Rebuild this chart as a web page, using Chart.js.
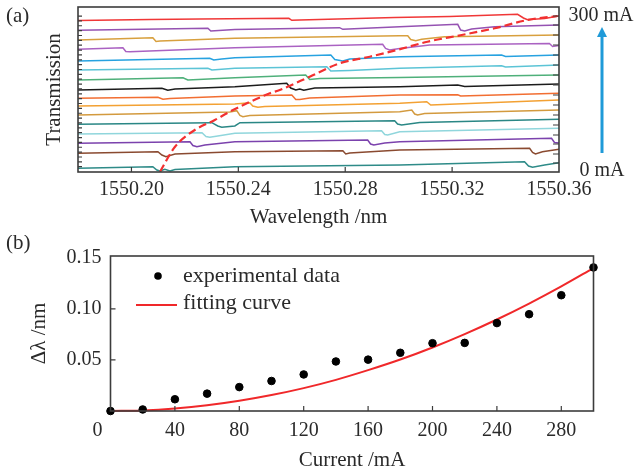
<!DOCTYPE html>
<html>
<head>
<meta charset="utf-8">
<script src="https://cdn.jsdelivr.net/npm/chart.js@4.4.1/dist/chart.umd.min.js"></script>
<style>
  html, body { margin: 0; padding: 0; background: #fff; }
  #wrap { position: relative; width: 637px; height: 473px; }
  #cA { position: absolute; left: 0; top: 0; }
  #cB { position: absolute; left: 0; top: 235px; }
</style>
</head>
<body>
<div id="wrap">
  <canvas id="cA" width="637" height="235"></canvas>
  <canvas id="cB" width="637" height="238"></canvas>
</div>
<script>
// ---- panel (a): transmission spectra, offset per drive current ([wavelength nm, transmission a.u.])
const currentsA = [0, 20, 40, 60, 80, 100, 120, 140, 160, 180, 200, 220, 240, 260, 280, 300];
const spec0 = [[1550.1800,3.7],[1550.2080,5.3],[1550.2095,2],[1550.2107,1],[1550.2125,2.7],[1550.2144,1],[1550.2163,2.5],[1550.2387,5.3],[1550.3004,7],[1550.3471,10.3],[1550.3486,6],[1550.3501,4.7],[1550.3546,7],[1550.3600,9.3]];
const spec20 = [[1550.1800,18.7],[1550.2099,20.3],[1550.2114,17],[1550.2129,15.3],[1550.2163,18],[1550.2387,20.3],[1550.2791,21.3],[1550.2802,18],[1550.2817,19],[1550.3004,22],[1550.3490,23.7],[1550.3501,19.5],[1550.3512,18],[1550.3538,20.3],[1550.3600,22.7]];
const spec40 = [[1550.1800,28.7],[1550.2219,30.3],[1550.2230,26.5],[1550.2245,25.3],[1550.2275,27],[1550.2387,30.3],[1550.2884,32],[1550.2895,28],[1550.2907,27],[1550.2948,29],[1550.3004,30.3],[1550.3572,33.7],[1550.3583,29.5],[1550.3600,29]];
const spec60 = [[1550.1800,38],[1550.2264,39.3],[1550.2279,35.5],[1550.2293,34.7],[1550.2323,36],[1550.2387,38.7],[1550.2936,41.3],[1550.2948,37.5],[1550.2959,37],[1550.3004,40.3],[1550.3600,43.7]];
const spec80 = [[1550.1800,47.7],[1550.2301,49.3],[1550.2323,46],[1550.2338,44.7],[1550.2387,46],[1550.2406,49.3],[1550.2985,51.3],[1550.2996,48],[1550.3011,47],[1550.3079,49.5],[1550.3600,52.7]];
const spec100 = [[1550.1800,57],[1550.2368,60],[1550.2394,61.3],[1550.2406,56.5],[1550.2417,55.3],[1550.2443,56.5],[1550.3004,60.3],[1550.3049,62],[1550.3060,58],[1550.3071,57],[1550.3097,58.5],[1550.3600,62]];
const spec120 = [[1550.1800,66],[1550.2387,68],[1550.2443,69.3],[1550.2454,66],[1550.2473,64.7],[1550.2499,65.5],[1550.3004,68.7],[1550.3105,70.3],[1550.3120,67],[1550.3600,72]];
const spec140 = [[1550.1800,73.7],[1550.2099,74.7],[1550.2118,72.7],[1550.2144,73.5],[1550.2387,76],[1550.2600,77],[1550.2615,72.5],[1550.2630,72.5],[1550.2667,74],[1550.3004,77],[1550.3221,77.3],[1550.3232,76],[1550.3600,78.7]];
const spec160 = [[1550.1800,82],[1550.2114,83.7],[1550.2136,81.7],[1550.2163,83],[1550.2387,85.3],[1550.2581,88.7],[1550.2596,84],[1550.2615,82],[1550.2630,83],[1550.2645,81.7],[1550.2686,84],[1550.3004,85.3],[1550.3221,87],[1550.3247,85.5],[1550.3600,88]];
const spec180 = [[1550.1800,92],[1550.2193,94.3],[1550.2211,92],[1550.2387,94.3],[1550.2652,97],[1550.2667,92.5],[1550.2705,93.5],[1550.3004,94.5],[1550.3600,97]];
const spec200 = [[1550.1800,102],[1550.2286,103.7],[1550.2301,102],[1550.2387,103.7],[1550.2731,105.3],[1550.2746,101],[1550.2817,101.5],[1550.3004,103.7],[1550.3385,106.3],[1550.3400,105],[1550.3600,107]];
const spec220 = [[1550.1800,111],[1550.2293,113.7],[1550.2308,112],[1550.2338,113],[1550.2387,114.3],[1550.2746,117],[1550.2761,112.5],[1550.2791,111],[1550.2817,113],[1550.3004,115.3],[1550.3385,117],[1550.3400,115.5],[1550.3600,117]];
const spec240 = [[1550.1800,122.7],[1550.1968,124.3],[1550.1979,120.5],[1550.1994,120.3],[1550.2387,124.3],[1550.2940,127.7],[1550.2951,123.5],[1550.2966,122],[1550.3004,123.5],[1550.3116,127],[1550.3564,128.5],[1550.3576,125.5],[1550.3600,126.5]];
const spec260 = [[1550.1800,132],[1550.2080,134.3],[1550.2092,130.5],[1550.2107,131],[1550.2387,133.7],[1550.3004,136.3],[1550.3034,136.3],[1550.3045,132.5],[1550.3064,131.3],[1550.3086,132.7],[1550.3172,135.3],[1550.3600,137]];
const spec280 = [[1550.1800,141.7],[1550.2286,143.7],[1550.2297,141],[1550.2387,142.5],[1550.2779,144.3],[1550.2791,142.7],[1550.3004,145.3],[1550.3221,147.7],[1550.3232,142],[1550.3247,141],[1550.3273,143],[1550.3359,145.3],[1550.3600,147]];
const spec300 = [[1550.1800,151.5],[1550.2069,152.5],[1550.2256,153],[1550.2589,153.7],[1550.2600,151.7],[1550.2630,152],[1550.2985,154.5],[1550.3191,155.5],[1550.3445,157.7],[1550.3467,154],[1550.3482,152.2],[1550.3505,152.7],[1550.3546,153.5],[1550.3600,156]];
const spectra = [spec0, spec20, spec40, spec60, spec80, spec100, spec120, spec140, spec160, spec180, spec200, spec220, spec240, spec260, spec280, spec300];
// dashed track through the resonance dips
const dipWl = [1550.2107,1550.2163,1550.2237,1550.2312,1550.2368,1550.2518,1550.2555,1550.2667,1550.2779,1550.2892,1550.2993,1550.3108,1550.3236,1550.3359,1550.3482,1550.3594];
const dipT = [0.3,25.3,42,52,60.3,78.7,82,95.3,108.7,115.3,122,130.3,137,143.7,152,156];
const waveTicks = [1550.20, 1550.24, 1550.28, 1550.32, 1550.36];
const rightTickVals = [9,18,28,37,47,57,67,77,87,97,107,117,127,137,147,156];

// ---- panel (b): wavelength shift vs current
const currentB = [0, 20, 40, 60, 80, 100, 120, 140, 160, 180, 200, 220, 240, 260, 280, 300];
const shiftMeasured = [0, 0.0015, 0.0115, 0.017, 0.0234, 0.0294, 0.0358, 0.0485, 0.0503, 0.057, 0.0664, 0.0667, 0.0861, 0.0948, 0.1134, 0.1406];
const shiftFit = [0, 0.0006, 0.0025, 0.0056, 0.010, 0.0156, 0.0224, 0.0305, 0.040, 0.0504, 0.0622, 0.0753, 0.0896, 0.1052, 0.122, 0.140];
const currentTicks = [0, 40, 80, 120, 160, 200, 240, 280];
const shiftTicks = [0, 0.05, 0.10, 0.15];

const traceColors = ['#2e8b88','#8a4a30','#7b42ad','#90d6dc','#2a8785','#d39a3e','#f3a133','#f26e32','#1c1c1c','#4fb07a','#5cc4d6','#27a2e0','#aa62c2','#d8a03e','#9552b2','#f03737'];
const serif = '"Liberation Serif", "Times New Roman", serif';
const textColor = '#2a2a2a';

Chart.defaults.font.family = serif;
Chart.defaults.color = textColor;

const framePlugin = {
  id: 'frame',
  afterDatasetsDraw(chart) {
    const { ctx, chartArea: a } = chart;
    ctx.save();
    ctx.strokeStyle = '#3c3c3c';
    ctx.lineWidth = 1.6;
    ctx.strokeRect(a.left, a.top, a.right - a.left, a.bottom - a.top);
    ctx.restore();
  }
};

// ---------- chart (a)
const dsA = spectra.map((s, i) => ({
  label: currentsA[i] + ' mA',
  data: s.map(p => ({ x: p[0], y: p[1] })),
  borderColor: traceColors[i],
  borderWidth: 1.5,
  pointRadius: 0,
  showLine: true,
  tension: 0
}));
dsA.unshift({
  label: 'dip',
  data: dipWl.map((w, i) => ({ x: w, y: dipT[i] })),
  borderColor: '#f23030',
  borderWidth: 2.2,
  borderDash: [8, 4],
  pointRadius: 0,
  showLine: true,
  cubicInterpolationMode: 'monotone'
});

const annotA = {
  id: 'annotA',
  afterDraw(chart) {
    const { ctx, chartArea: a, scales } = chart;
    ctx.save();
    ctx.strokeStyle = '#3c3c3c';
    ctx.lineWidth = 1.2;
    ctx.beginPath();
    scales.x.ticks.forEach(t => {
      const px = scales.x.getPixelForValue(t.value);
      if (px < a.right - 2) { ctx.moveTo(px, a.bottom); ctx.lineTo(px, a.bottom - 5); }
    });
    scales.y.ticks.forEach(t => {
      const py = scales.y.getPixelForValue(t.value);
      ctx.moveTo(a.left, py); ctx.lineTo(a.left + 4, py);
    });
    rightTickVals.forEach(v => {
      const py = scales.y.getPixelForValue(v);
      ctx.moveTo(a.right, py); ctx.lineTo(a.right - 6, py);
    });
    ctx.stroke();

    // current arrow
    const ax = a.right + 43;
    ctx.strokeStyle = '#1f9ad8';
    ctx.fillStyle = '#1f9ad8';
    ctx.lineWidth = 3;
    ctx.beginPath();
    ctx.moveTo(ax, a.bottom - 19); ctx.lineTo(ax, a.top + 28);
    ctx.stroke();
    ctx.beginPath();
    ctx.moveTo(ax, a.top + 20); ctx.lineTo(ax - 5, a.top + 30); ctx.lineTo(ax + 5, a.top + 30);
    ctx.closePath(); ctx.fill();

    ctx.fillStyle = textColor;
    ctx.font = '20px ' + serif;
    ctx.textAlign = 'center';
    ctx.textBaseline = 'middle';
    ctx.fillText('300 mA', ax - 1, a.top + 9);
    ctx.fillText('0 mA', ax, a.bottom - 1);
    ctx.textAlign = 'left';
    ctx.font = '21px ' + serif;
    ctx.fillText('(a)', 6, 16);
    ctx.restore();
  }
};

new Chart(document.getElementById('cA'), {
  type: 'scatter',
  data: { datasets: dsA },
  options: {
    responsive: false,
    animation: false,
    layout: { padding: { top: 7, right: 78, left: 0, bottom: 0 } },
    plugins: { legend: { display: false }, tooltip: { enabled: false } },
    scales: {
      x: {
        type: 'linear', min: 1550.18, max: 1550.36,
        grid: { display: false, drawTicks: false }, border: { display: false },
        afterBuildTicks: s => { s.ticks = waveTicks.map(v => ({ value: v })); },
        afterFit: s => { s.height = 63; },
        ticks: { padding: 6, maxRotation: 0, font: { size: 20 }, color: textColor, callback: v => v.toFixed(2) },
        title: { display: true, text: 'Wavelength /nm', font: { size: 21 }, color: textColor, padding: { top: 0, bottom: 5 } }
      },
      y: {
        type: 'linear', min: 0, max: 165,
        grid: { display: false, drawTicks: false }, border: { display: false },
        afterBuildTicks: s => {
          const t = [];
          for (let k = 0; k < 32; k++) t.push({ value: 5.3 + 4.86 * k });
          s.ticks = t;
        },
        afterFit: s => { s.width = 78; },
        ticks: { display: false },
        title: { display: true, text: 'Transmission', font: { size: 21 }, color: textColor, padding: { top: 42, bottom: 0 } }
      }
    }
  },
  plugins: [framePlugin, annotA]
});

// ---------- chart (b)
const annotB = {
  id: 'annotB',
  afterDraw(chart) {
    const { ctx, chartArea: a, scales } = chart;
    ctx.save();
    ctx.strokeStyle = '#3c3c3c';
    ctx.lineWidth = 1.2;
    ctx.beginPath();
    scales.x.ticks.forEach(t => {
      const px = scales.x.getPixelForValue(t.value);
      if (px > a.left + 2 && px < a.right - 2) { ctx.moveTo(px, a.bottom); ctx.lineTo(px, a.bottom - 5); }
    });
    scales.y.ticks.forEach(t => {
      const py = scales.y.getPixelForValue(t.value);
      if (py < a.bottom - 2 && py > a.top + 3) { ctx.moveTo(a.left, py); ctx.lineTo(a.left + 5, py); }
    });
    ctx.stroke();

    ctx.fillStyle = textColor;
    ctx.font = '20px ' + serif;
    ctx.textAlign = 'center';
    ctx.textBaseline = 'middle';
    ctx.fillText('0', scales.x.getPixelForValue(0) - 13, a.bottom + 20);

    // legend
    const ds = chart.data.datasets;
    ctx.fillStyle = '#000';
    ctx.beginPath(); ctx.arc(158, 41, 3.8, 0, Math.PI * 2); ctx.fill();
    ctx.strokeStyle = ds[1].borderColor;
    ctx.lineWidth = 2;
    ctx.beginPath(); ctx.moveTo(136, 70); ctx.lineTo(177, 70); ctx.stroke();
    ctx.fillStyle = textColor;
    ctx.font = '22px ' + serif;
    ctx.textAlign = 'left';
    ctx.fillText(ds[0].label, 183, 41);
    ctx.fillText(ds[1].label, 183, 68);
    ctx.font = '21px ' + serif;
    ctx.fillText('(b)', 6, 8);
    ctx.restore();
  }
};

new Chart(document.getElementById('cB'), {
  type: 'scatter',
  data: {
    datasets: [
      {
        label: 'experimental data',
        data: currentB.map((c, i) => ({ x: c, y: shiftMeasured[i] })),
        backgroundColor: '#000', borderColor: '#000',
        pointRadius: 3.8, showLine: false
      },
      {
        label: 'fitting curve',
        data: currentB.map((c, i) => ({ x: c, y: shiftFit[i] })),
        borderColor: '#f0282a', borderWidth: 2,
        pointRadius: 0, showLine: true, cubicInterpolationMode: 'monotone'
      }
    ]
  },
  options: {
    responsive: false,
    animation: false,
    clip: false,
    layout: { padding: { top: 9, right: 43.5, left: 0, bottom: 0 } },
    plugins: { legend: { display: false }, tooltip: { enabled: false } },
    scales: {
      x: {
        type: 'linear', min: 0, max: 300,
        grid: { display: false, drawTicks: false }, border: { display: false },
        afterBuildTicks: s => { s.ticks = currentTicks.map(v => ({ value: v })); },
        afterFit: s => { s.height = 62; },
        ticks: { padding: 8, maxRotation: 0, font: { size: 20 }, color: textColor, callback: v => (v === 0 ? '' : String(v)) },
        title: { display: true, text: 'Current /mA', font: { size: 21 }, color: textColor, padding: { top: 0, bottom: 0 } }
      },
      y: {
        type: 'linear', min: 0, max: 0.1518,
        grid: { display: false, drawTicks: false }, border: { display: false },
        afterBuildTicks: s => { s.ticks = shiftTicks.map(v => ({ value: v })); },
        afterFit: s => { s.width = 110.5; },
        ticks: { padding: 9, font: { size: 20 }, color: textColor, callback: v => (v === 0 ? '' : v.toFixed(2)) },
        title: { display: true, text: 'Δλ /nm', font: { size: 21 }, color: textColor, padding: { top: 27, bottom: 0 } }
      }
    }
  },
  plugins: [framePlugin, annotB]
});
</script>
</body>
</html>
